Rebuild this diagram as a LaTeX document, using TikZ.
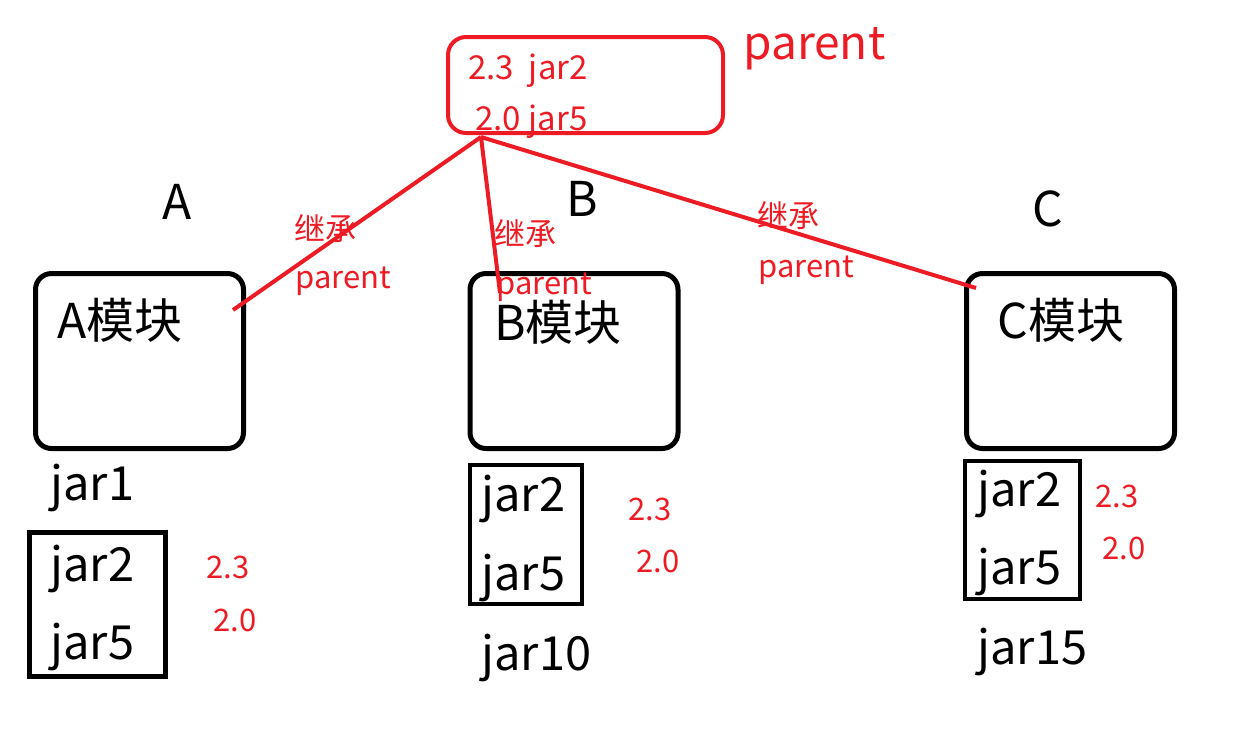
\documentclass[tikz,border=0pt]{standalone}
\usepackage{fontspec}
\setmainfont{Noto Sans CJK SC}
\definecolor{paintred}{RGB}{237,28,36}
\newcommand{\bigtxt}{\fontsize{24pt}{28pt}\selectfont}
\newcommand{\jartxt}{\fontsize{23.5pt}{28pt}\selectfont}
\newcommand{\redtxt}{\fontsize{15.5pt}{18pt}\selectfont}

\begin{document}
\begin{tikzpicture}[x=0.5pt, y=-0.5pt,
		txt/.style={inner sep=0pt, anchor=base west},
		modbox/.style={draw, line width=2.5pt, rounded corners=8pt, minimum width=104pt, minimum height=87.5pt},
		jarbox/.style={draw, line width=2.4pt},
		link/.style={draw=paintred, line width=2pt}]
		\useasboundingbox (0,0) rectangle (1251,741);

		% parent box
		\node[draw=paintred, line width=2pt, rounded corners=9pt, minimum width=137.5pt, minimum height=48pt] (parentbox) at (585.5,85) {};
		\node[txt, text=paintred] (p1) at (468,79) {\fontsize{16.5pt}{20pt}\selectfont 2.3~~jar2};
		\node[txt, text=paintred] (p2) at (475,130) {\fontsize{16.5pt}{20pt}\selectfont 2.0 jar5};
		\node[txt, text=paintred] (ptitle) at (743,59) {\fontsize{23pt}{28pt}\selectfont parent};

		% module names
		\node[txt] (nameA) at (162,219) {\bigtxt A};
		\node[txt] (nameB) at (566,216) {\bigtxt B};
		\node[txt] (nameC) at (1032,226) {\bigtxt C};

		% module boxes
		\node[modbox] (boxA) at (139.5,361) {};
		\node[modbox] (boxB) at (574,361) {};
		\node[modbox] (boxC) at (1070.5,361) {};
		\node[txt] (modA) at (57,338) {\bigtxt A模块};
		\node[txt] (modB) at (494,340) {\bigtxt B模块};
		\node[txt] (modC) at (997,338) {\bigtxt C模块};

		% inheritance links
		\coordinate (top) at (481,137);
		\coordinate (endA) at (233,310);
		\coordinate (endB) at (500,293);
		\coordinate (endC) at (976,288);
		\draw[link] (top) -- (endA);
		\draw[link] (top) -- (endB);
		\draw[link] (top) -- (endC);

		\node[txt, text=paintred] (inhA) at (294,240) {\redtxt 继承};
		\node[txt, text=paintred] (parA) at (295,288) {\redtxt parent};
		\node[txt, text=paintred] (inhB) at (494,245) {\redtxt 继承};
		\node[txt, text=paintred] (parB) at (496,294) {\redtxt parent};
		\node[txt, text=paintred] (inhC) at (757,227) {\redtxt 继承};
		\node[txt, text=paintred] (parC) at (758,277) {\redtxt parent};

		% jars of A
		\node[txt] (jar1A) at (50,500) {\jartxt jar1};
		\node[jarbox, minimum width=68pt, minimum height=72pt] (jarsA) at (97.5,604.5) {};
		\node[txt] (jar2A) at (50,581) {\jartxt jar2};
		\node[txt] (jar5A) at (50,659) {\jartxt jar5};
		\node[txt, text=paintred] (verA1) at (206,578) {\redtxt 2.3};
		\node[txt, text=paintred] (verA2) at (213,631) {\redtxt 2.0};

		% jars of B
		\node[jarbox, minimum width=56pt, minimum height=69.5pt] (jarsB) at (526,534.5) {};
		\node[txt] (jar2B) at (481,511) {\jartxt jar2};
		\node[txt] (jar5B) at (481,590) {\jartxt jar5};
		\node[txt] (jar10B) at (481,670) {\jartxt jar10};
		\node[txt, text=paintred] (verB1) at (628,520) {\redtxt 2.3};
		\node[txt, text=paintred] (verB2) at (636,572) {\redtxt 2.0};

		% jars of C
		\node[jarbox, minimum width=57.5pt, minimum height=69pt] (jarsC) at (1022.5,530) {};
		\node[txt] (jar2C) at (977,506) {\jartxt jar2};
		\node[txt] (jar5C) at (977,584) {\jartxt jar5};
		\node[txt] (jar15C) at (977,664) {\jartxt jar15};
		\node[txt, text=paintred] (verC1) at (1095,507) {\redtxt 2.3};
		\node[txt, text=paintred] (verC2) at (1102,559) {\redtxt 2.0};
	\end{tikzpicture}
\end{document}
